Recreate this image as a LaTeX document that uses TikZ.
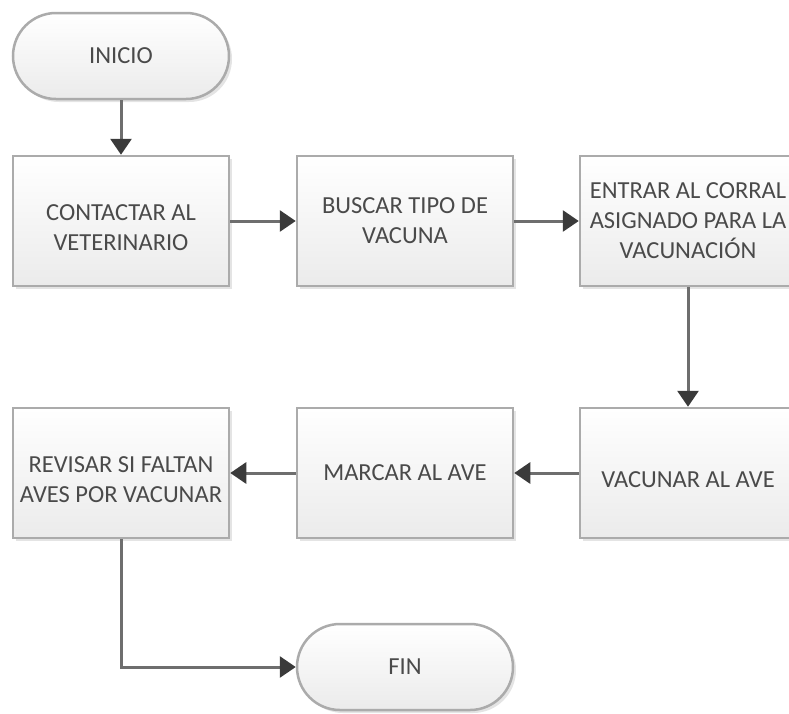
\documentclass[tikz,border=0pt]{standalone}
\usepackage{fontspec}
\setmainfont{Carlito}
\usetikzlibrary{arrows.meta,shadows}
\definecolor{borde}{HTML}{ABABAB}
\definecolor{texto}{HTML}{4A4A4A}
\definecolor{linea}{HTML}{6E6E6E}
\definecolor{punta}{HTML}{3A3A3A}
\definecolor{fondo}{HTML}{EBEBEB}
\tikzset{
  caja/.style = {
    shape=rectangle, draw=borde, line width=2.5pt,
    top color=white, bottom color=fondo, text=texto,
    align=center, inner sep=0pt,
    minimum width=216pt, minimum height=130pt,
    font=\fontsize{24.5}{30}\selectfont,
    drop shadow={shadow xshift=3pt, shadow yshift=-3pt, fill=gray!35, opacity=.6}
  },
  terminal/.style = {caja, rounded corners=43pt, minimum height=86pt},
  flecha/.style = {draw=linea, line width=3pt, -{Triangle[width=21pt,length=16pt,color=punta]}},
}

\begin{document}
\begin{tikzpicture}[x=1pt,y=-1pt]
  \clip (0,0) rectangle (789,713);

  % fila superior
  \node[terminal] (inicio)    at (121,56)  {INICIO};
  \node[caja]     (contactar) at (121,221) {\mbox{}\\CONTACTAR AL\\VETERINARIO};
  \node[caja]     (buscar)    at (405,221) {BUSCAR TIPO DE\\VACUNA};
  \node[caja]     (entrar)    at (688,221) {ENTRAR AL CORRAL\\ASIGNADO PARA LA\\VACUNACIÓN};

  % fila inferior
  \node[caja]     (vacunar)   at (688,473) {\mbox{}\\VACUNAR AL AVE};
  \node[caja]     (marcar)    at (405,473) {MARCAR AL AVE};
  \node[caja]     (revisar)   at (121,473) {\mbox{}\\REVISAR SI FALTAN\\AVES POR VACUNAR};
  \node[terminal] (fin)       at (405,667) {FIN};

  \draw[flecha] (inicio) -- (contactar);
  \draw[flecha] (contactar) -- (buscar);
  \draw[flecha] (buscar) -- (entrar);
  \draw[flecha] (entrar) -- (vacunar);
  \draw[flecha] (vacunar) -- (marcar);
  \draw[flecha] (marcar) -- (revisar);
  \draw[flecha] (revisar.south) |- (fin.west);
\end{tikzpicture}
\end{document}
